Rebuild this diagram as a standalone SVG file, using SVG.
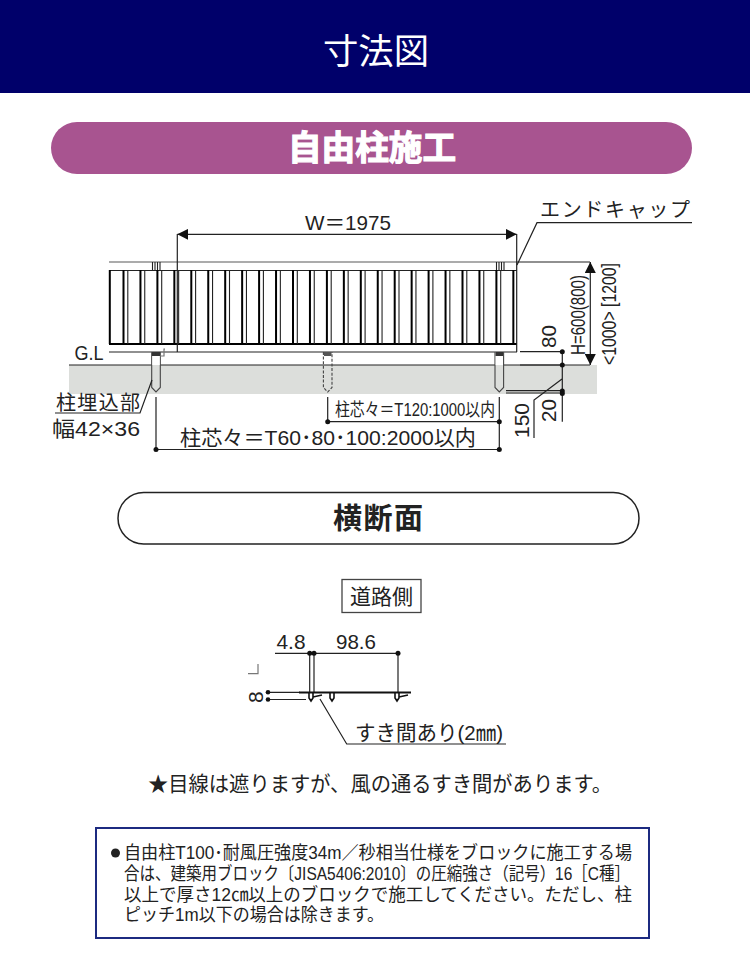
<svg xmlns="http://www.w3.org/2000/svg" width="750" height="979" viewBox="0 0 750 979">
<style>
text{font-family:"Liberation Sans","Noto Sans CJK JP",sans-serif;fill:#222}
.jp{font-family:"Noto Sans CJK JP",sans-serif}
.d{fill:none;stroke:#222;stroke-width:1.2}
.dk{fill:none;stroke:#000;stroke-width:2}
.th{fill:none;stroke:#222;stroke-width:1.100}
.g{fill:none;stroke:#777;stroke-width:1.200}
.dim{font-size:21px}
.note{font-size:18px}
.dt{fill:#111}
</style>
<defs>
<marker id="ah" markerUnits="userSpaceOnUse" markerWidth="11" markerHeight="11" refX="11" refY="5.500" orient="auto-start-reverse"><path d="M0,0L11,5.500L0,11Z" fill="#111"/></marker>
<path id="post" d="M-4.300,0V35.500L0,40L4.300,35.500V0" stroke-width="1.100"/>
</defs>
<rect width="750" height="979" fill="#fff"/>
<g id="header"><rect width="750" height="93" fill="#00006a"/><text x="376" y="64" text-anchor="middle" font-size="35" class="jp" style="fill:#fff" textLength="106" lengthAdjust="spacingAndGlyphs">寸法図</text></g>
<g id="section-free-post"><rect x="51" y="122" width="641" height="52" rx="26" fill="#a85490"/><text x="372" y="160" text-anchor="middle" font-size="34" font-weight="700" class="jp" style="fill:#fff;stroke:#fff;stroke-width:1.200" textLength="168" lengthAdjust="spacingAndGlyphs">自由柱施工</text></g>

<g id="ground"><rect x="69" y="365" width="528" height="29" fill="#dcdedb"/><path d="M69,365H590" class="d"/></g>

<g id="fence">
<path d="M109,262H517" class="th" stroke-opacity=".75"/><path d="M109,270.500H517M109,352H517" class="d"/><path d="M109,344H517" class="dk"/>
<path class="dk" d="M109.800,270V344M123.500,270V344M140.450,270V344M157.400,270V344M174.350,270V344M191.300,270V344M208.250,270V344M225.200,270V344M242.150,270V344M259.100,270V344M276.050,270V344M293,270V344M309.950,270V344M326.900,270V344M343.850,270V344M360.800,270V344M377.750,270V344M394.700,270V344M411.650,270V344M428.600,270V344M445.550,270V344M462.500,270V344M479.450,270V344M496.400,270V344M513.350,270V344"/>
<path class="th" d="M127.800,270V344M144.750,270V344M161.700,270V344M178.650,270V344M195.600,270V344M212.550,270V344M229.500,270V344M246.450,270V344M263.400,270V344M280.350,270V344M297.300,270V344M314.250,270V344M331.200,270V344M348.150,270V344M365.100,270V344M382.050,270V344M399,270V344M415.950,270V344M432.900,270V344M449.850,270V344M466.800,270V344M483.750,270V344M500.700,270V344"/>
<path class="th" d="M152.500,262V270M155,262V270M157.500,262V270M160,262V270M496.500,262V270M499,262V270M501.500,262V270M504,262V270"/>
</g>
<g id="posts">
<g id="post-left"><use href="#post" x="156" y="352" fill="#dcdedb" stroke="#444"/><rect x="152.300" y="353" width="7.400" height="12" fill="#fff"/><rect x="152" y="352" width="8" height="4" fill="#333"/><path d="M160,356H164V349H165" class="g"/></g>
<g id="post-mid"><use href="#post" x="327.700" y="352" fill="none" stroke="#444" stroke-dasharray="3 1.600"/><rect x="324" y="352" width="7.500" height="4" fill="#555"/></g>
<g id="post-right"><use href="#post" x="499.300" y="352" fill="#dcdedb" stroke="#444"/><rect x="495.600" y="353" width="7.400" height="12" fill="#fff"/><rect x="495.500" y="352" width="7.500" height="4" fill="#333"/></g>
</g>

<g id="connectors">
<path d="M177.300,234.300H516.700" class="d" marker-start="url(#ah)" marker-end="url(#ah)"/>
<path d="M177.300,234V352M516.700,234V352" class="d"/>
<path d="M517,265L537,222.700H692" class="d"/>
<path d="M517,262H590" class="d"/>
<path d="M590.300,262V365" class="d" marker-start="url(#ah)" marker-end="url(#ah)"/>
<path d="M520,351.700H562M520,365H562M506,390.700H562M506,393H562" class="d"/>
<path d="M562.300,351.700V421.700" class="d"/>
<path d="M562,379L534,400V438" class="d"/>
<path d="M156,397V449.500H499.300V397" class="d"/>
<path d="M327.700,397V421.700H499.300" class="d"/>
<path d="M152,380L140,413H55" class="d"/>
<path d="M275,653.300H398" class="d"/>
<path d="M309.700,653.300V692M314,653.300V692M398,653.300V692" class="d"/>
<path d="M258,664V673.700H248" class="g" stroke-width="1.300"/>
<path d="M268,692.300H300M268,699.500H306" class="d"/>
<path d="M320,699L346.700,744H506" class="d"/>
<g class="dt"><circle cx="562.300" cy="351.700" r="2.500"/><circle cx="562.300" cy="365" r="2.500"/><circle cx="562.300" cy="391" r="2.500"/><circle cx="562.300" cy="393.500" r="2.500"/><circle cx="156" cy="449.500" r="2.500"/><circle cx="499.300" cy="449.500" r="2.500"/><circle cx="327.700" cy="421.700" r="2.500"/><circle cx="499.300" cy="421.700" r="2.500"/><circle cx="309.700" cy="653.300" r="2.500"/><circle cx="314" cy="653.300" r="2.500"/><circle cx="398" cy="653.300" r="2.500"/><circle cx="268" cy="692.300" r="2.300"/><circle cx="268" cy="699.500" r="2.300"/></g>
</g>

<g id="profile" fill="none" stroke="#111" stroke-width="1.600">
<path d="M299,692.500H411" stroke-width="2.200"/>
<path d="M309,693V698L311,701L313,698V693M313,697L322,695M330,693V698L332,701L334,698V693M395,693V698L397,701L399,698V693M399,697L408,695"/>
</g>

<g id="labels">
<text x="348" y="230" class="dim" text-anchor="middle" textLength="86" lengthAdjust="spacingAndGlyphs">W＝1975</text>
<text x="615" y="217" text-anchor="middle" font-size="20" class="jp" textLength="150">エンドキャップ</text>
<text x="89" y="360" font-size="21" text-anchor="middle" textLength="29" lengthAdjust="spacingAndGlyphs">G.L</text>
<text x="98" y="410" text-anchor="middle" font-size="20" class="jp" textLength="84">柱埋込部</text>
<text x="96" y="436" text-anchor="middle" font-size="21" textLength="88" lengthAdjust="spacingAndGlyphs">幅42×36</text>
<text x="415" y="416" text-anchor="middle" font-size="18" textLength="160" lengthAdjust="spacingAndGlyphs">柱芯々＝T120:1000以内</text>
<text x="328" y="445" text-anchor="middle" font-size="21" textLength="296" lengthAdjust="spacingAndGlyphs">柱芯々＝T60･80･100:2000以内</text>
<text transform="translate(556,348) rotate(-90)" font-size="21" textLength="23" lengthAdjust="spacingAndGlyphs">80</text>
<text transform="translate(556,422) rotate(-90)" font-size="21" textLength="23" lengthAdjust="spacingAndGlyphs">20</text>
<text transform="translate(529,438) rotate(-90)" font-size="21" textLength="35" lengthAdjust="spacingAndGlyphs">150</text>
<text transform="translate(585,355) rotate(-90)" font-size="20" textLength="80" lengthAdjust="spacingAndGlyphs">H=600(800)</text>
<text transform="translate(616,365) rotate(-90)" font-size="20" textLength="102" lengthAdjust="spacingAndGlyphs">&lt;1000&gt; [1200]</text>
</g>

<g id="section-cross"><rect x="118" y="492.500" width="521" height="51.500" rx="25.700" fill="#fff" stroke="#222" stroke-width="1.500"/><text x="378" y="529" text-anchor="middle" font-size="29" font-weight="700" class="jp" textLength="90">横断面</text></g>
<g id="road-side"><rect x="342" y="579.500" width="79" height="33" fill="#fff" stroke="#444" stroke-width="1.300"/><text x="381.500" y="604" text-anchor="middle" font-size="21" class="jp" textLength="63">道路側</text></g>
<g id="cross-labels">
<text x="291" y="649" text-anchor="middle" class="dim" textLength="29" lengthAdjust="spacingAndGlyphs">4.8</text>
<text x="356" y="649" text-anchor="middle" class="dim" textLength="40" lengthAdjust="spacingAndGlyphs">98.6</text>
<text transform="translate(263,703) rotate(-90)" font-size="21">8</text>
<text x="429" y="740" text-anchor="middle" font-size="21" textLength="148" lengthAdjust="spacingAndGlyphs">すき間あり(2㎜)</text>
<text x="380" y="791" text-anchor="middle" font-size="21" textLength="464" lengthAdjust="spacingAndGlyphs">★目線は遮りますが、風の通るすき間があります。</text>
</g>
<g id="note"><rect x="96" y="828" width="553" height="110" fill="#fff" stroke="#1c2a80" stroke-width="2"/>
<circle cx="115.500" cy="853" r="4.500" fill="#222"/>
<text x="124" y="859" class="note" textLength="508" lengthAdjust="spacingAndGlyphs">自由柱T100･耐風圧強度34m／秒相当仕様をブロックに施工する場</text>
<text x="124" y="880" class="note" textLength="506" lengthAdjust="spacingAndGlyphs">合は、建築用ブロック〔JISA5406:2010〕の圧縮強さ（記号）16［C種］</text>
<text x="124" y="901" class="note" textLength="508" lengthAdjust="spacingAndGlyphs">以上で厚さ12㎝以上のブロックで施工してください。ただし、柱</text>
<text x="124" y="921" class="note" textLength="260" lengthAdjust="spacingAndGlyphs">ピッチ1m以下の場合は除きます。</text>
</g>
</svg>
